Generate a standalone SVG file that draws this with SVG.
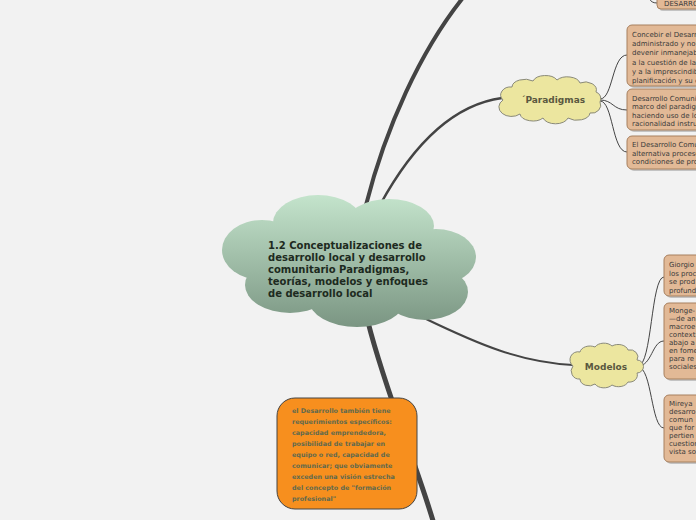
<svg xmlns="http://www.w3.org/2000/svg" width="696" height="520" viewBox="0 0 696 520">
<defs>
<linearGradient id="cg" gradientUnits="userSpaceOnUse" x1="0" y1="195" x2="0" y2="328">
<stop offset="0" stop-color="#c4e4cc"/>
<stop offset="1" stop-color="#7a9582"/>
</linearGradient>
<style>
.bg{fill:#f2f2f2}
.conn{fill:none;stroke:#444;stroke-linecap:round}
.thin{fill:none;stroke:#444;stroke-width:1}
.box{fill:#e2b996;stroke:#a7805f;stroke-width:1}
.sh{fill:#8a8a8a;opacity:.45}
.bt{font-family:"DejaVu Sans",Verdana,sans-serif;font-size:7px;fill:#3b3b3b}
.cloud{fill:#ece69f;stroke:#8a8a7a;stroke-width:1}
.ct{font-family:"DejaVu Sans",Verdana,sans-serif;font-size:9px;font-weight:bold;fill:#5a5840}
.mt{font-family:"DejaVu Sans",Verdana,sans-serif;font-size:10px;font-weight:bold;fill:#1d2a20}
.ot{font-family:"DejaVu Sans",Verdana,sans-serif;font-size:6.4px;font-weight:bold;fill:#5f6a4e}
</style>
</defs>
<rect class="bg" x="0" y="0" width="696" height="520"/>

<g id="connectors">
<path class="conn" stroke-width="4" d="M366,205 C385,130 420,50 466,-6"/>
<path class="conn" stroke-width="2.5" d="M380,205 C410,150 450,105 502,98"/>
<path class="conn" stroke-width="2" d="M424,318 C480,345 520,362 573,365"/>
<path class="conn" stroke-width="5" d="M368,322 C385,390 415,460 434,524"/>
<path class="thin" d="M600,99 C613,99 612,55 627,55"/>
<path class="thin" d="M600,100 C613,100 613,110 627,110"/>
<path class="thin" d="M600,101 C613,101 612,152 627,152"/>
<path class="thin" d="M638,-6 C652,-4 648,3 657,3"/>
<path class="thin" d="M638,366 C652,366 651,277 664,277"/>
<path class="thin" d="M638,366 C652,366 652,341 664,341"/>
<path class="thin" d="M638,367 C652,367 651,428 664,428"/>
</g>

<g id="central">
<g fill="url(#cg)">
<ellipse cx="350" cy="262" rx="100" ry="45"/>
<ellipse cx="318" cy="223" rx="45" ry="28"/>
<ellipse cx="389" cy="226" rx="45" ry="27"/>
<ellipse cx="262" cy="250" rx="40" ry="30"/>
<ellipse cx="436" cy="257" rx="40" ry="28"/>
<ellipse cx="290" cy="285" rx="45" ry="28"/>
<ellipse cx="357" cy="300" rx="48" ry="27"/>
<ellipse cx="425" cy="292" rx="43" ry="28"/>
</g>
<text class="mt" x="268" y="249">1.2 Conceptualizaciones de</text>
<text class="mt" x="268" y="261">desarrollo local y desarrollo</text>
<text class="mt" x="268" y="273">comunitario Paradigmas,</text>
<text class="mt" x="268" y="285">teorías, modelos y enfoques</text>
<text class="mt" x="268" y="297">de desarrollo local</text>
</g>

<g id="paradigmas">
<path class="cloud" d="M503,100 A10,8 0 0 1 512,87 A13,8 0 0 1 533,81 A13,8 0 0 1 557,80 A13,8 0 0 1 580,83 A11,8 0 0 1 596,92 A7,7 0 0 1 600,102 A9,8 0 0 1 590,113 A13,8 0 0 1 568,118 A13,8 0 0 1 543,118 A13,8 0 0 1 520,114 A12,9 0 0 1 503,100 Z"/>
<text class="ct" x="553" y="103" text-anchor="middle">´Paradigmas</text>
</g>

<g id="modelos">
<path class="cloud" d="M573,366 A8,8 0 0 1 580,352 A10,7 0 0 1 595,347 A10,7 0 0 1 612,346 A10,7 0 0 1 628,350 A8,7 0 0 1 637,360 A6,6 0 0 1 637,373 A8,7 0 0 1 628,382 A10,7 0 0 1 612,385 A10,7 0 0 1 595,384 A9,7 0 0 1 580,379 A8,8 0 0 1 573,366 Z"/>
<text class="ct" x="606" y="370" text-anchor="middle">Modelos</text>
</g>

<g id="box-top">
<rect class="sh" x="659" y="-10" width="60" height="21" rx="4"/>
<rect class="box" x="657" y="-12" width="60" height="21" rx="4"/>
<text class="bt" x="664" y="6">DESARROLLO</text>
</g>

<g id="box-p1">
<rect class="sh" x="629" y="27" width="90" height="61" rx="5"/>
<rect class="box" x="627" y="25" width="90" height="61" rx="5"/>
<text class="bt" x="632" y="37">Concebir el Desarrollo</text>
<text class="bt" x="632" y="46.2">administrado y no</text>
<text class="bt" x="632" y="55.4"> devenir inmanejable</text>
<text class="bt" x="632" y="64.6">a la cuestión de la</text>
<text class="bt" x="632" y="73.8">y a la imprescindible</text>
<text class="bt" x="632" y="83">planificación y su c</text>
</g>

<g id="box-p2">
<rect class="sh" x="629" y="91" width="90" height="41" rx="5"/>
<rect class="box" x="627" y="89" width="90" height="41" rx="5"/>
<text class="bt" x="632" y="100.5">Desarrollo Comunitario</text>
<text class="bt" x="632" y="109">marco del paradigma</text>
<text class="bt" x="632" y="117.5">haciendo uso de lo</text>
<text class="bt" x="632" y="126">racionalidad instrumental</text>
</g>

<g id="box-p3">
<rect class="sh" x="629" y="138" width="90" height="33" rx="5"/>
<rect class="box" x="627" y="136" width="90" height="33" rx="5"/>
<text class="bt" x="632" y="147">El Desarrollo Comunitario</text>
<text class="bt" x="632" y="155.5">alternativa proceso</text>
<text class="bt" x="632" y="164">condiciones de pro</text>
</g>

<g id="box-m1">
<rect class="sh" x="666" y="257" width="60" height="41" rx="5"/>
<rect class="box" x="664" y="255" width="60" height="41" rx="5"/>
<text class="bt" x="669" y="267">Giorgio</text>
<text class="bt" x="669" y="275.5">los proc</text>
<text class="bt" x="669" y="284">se prod</text>
<text class="bt" x="669" y="292.5">profund</text>
</g>

<g id="box-m2">
<rect class="sh" x="666" y="305" width="60" height="76" rx="5"/>
<rect class="box" x="664" y="303" width="60" height="76" rx="5"/>
<text class="bt" x="669" y="313">Monge-</text>
<text class="bt" x="669" y="321">—de an</text>
<text class="bt" x="669" y="329">macroe</text>
<text class="bt" x="669" y="337">context</text>
<text class="bt" x="669" y="345">abajo a</text>
<text class="bt" x="669" y="353">en fome</text>
<text class="bt" x="669" y="361">para re</text>
<text class="bt" x="669" y="369">sociales</text>
</g>

<g id="box-m3">
<rect class="sh" x="666" y="397" width="60" height="67" rx="5"/>
<rect class="box" x="664" y="395" width="60" height="67" rx="5"/>
<text class="bt" x="669" y="406">Mireya</text>
<text class="bt" x="669" y="414">desarro</text>
<text class="bt" x="669" y="422"> comun</text>
<text class="bt" x="669" y="430">que for</text>
<text class="bt" x="669" y="438">pertien</text>
<text class="bt" x="669" y="446">cuestion</text>
<text class="bt" x="669" y="454">vista so</text>
</g>

<g id="orange">
<rect x="277" y="398" width="140" height="111" rx="18" fill="#f78f1e" stroke="#444" stroke-width="1"/>
<text class="ot" x="292" y="413">el Desarrollo también tiene</text>
<text class="ot" x="292" y="424">requerimientos específicos:</text>
<text class="ot" x="292" y="435">capacidad emprendedora,</text>
<text class="ot" x="292" y="446">posibilidad de trabajar en</text>
<text class="ot" x="292" y="457">equipo o red, capacidad de</text>
<text class="ot" x="292" y="468">comunicar; que obviamente</text>
<text class="ot" x="292" y="479">exceden una visión estrecha</text>
<text class="ot" x="292" y="490">del concepto de "formación</text>
<text class="ot" x="292" y="501">profesional"</text>
</g>
</svg>
